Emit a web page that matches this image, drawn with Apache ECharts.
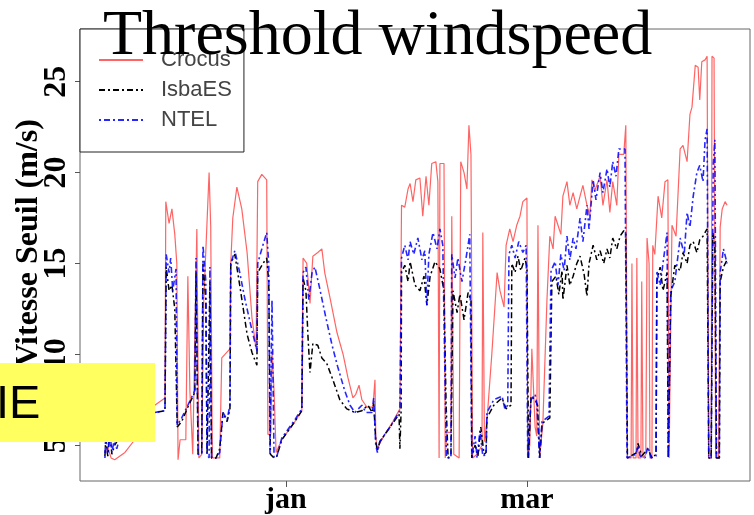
<!DOCTYPE html>
<html>
<head>
<meta charset="utf-8">
<title>Threshold windspeed</title>
<script src="https://cdn.jsdelivr.net/npm/echarts@6/dist/echarts.min.js"></script>
<style>
  html, body { margin: 0; padding: 0; background: #fff; }
  #main { width: 754px; height: 515px; }
</style>
</head>
<body>
<div id="main"></div>
<script>
// days counted from 1 January, values in m/s
var crocusDays = [-44.3,-43.6,-42.8,-41.9,-39.4,-37.0,-34.5,-32.1,-29.6,
  -29.4,-28.6,-27.9,-27.2,-26.7,-26.4,-25.9,-24.5,-24.0,-23.5,-22.8,-21.8,-21.3,-20.6,-20.1,-18.8,-18.4,-18.0,-16.2,-15.7,-13.7,-13.5,-13.0,-12.0,-10.8,-9.5,-8.3,-7.3,-6.9,-5.9,-4.7,-4.4,-3.7,-3.4,-2.9,-2.4,-1.0,2.2,3.9,
  4.2,5.1,5.9,6.6,7.8,8.8,9.5,10.8,12.5,14.0,15.2,16.4,17.1,17.9,18.6,19.8,21.3,21.8,22.0,22.3,24.2,26.2,27.9,
  28.3,29.1,29.9,30.4,31.1,31.8,32.8,33.5,34.3,35.0,35.7,36.7,37.2,37.5,37.7,38.7,39.0,39.4,40.4,40.6,41.1,42.4,42.8,43.6,44.3,44.8,45.3,45.7,
  46.8,48.0,48.2,48.6,49.2,50.4,51.7,52.4,53.4,53.9,54.8,55.6,56.5,57.3,58.0,59.0,59.2,59.7,60.2,61.0,61.4,61.7,62.1,62.9,63.9,64.6,
  65.4,65.9,66.6,67.3,67.8,68.8,69.5,70.3,71.2,72.0,72.7,73.7,74.4,74.9,75.6,76.9,77.6,78.6,79.3,80.0,81.0,81.5,82.7,83.2,83.6,
  84.5,84.7,85.0,85.7,85.9,86.2,86.9,87.1,87.4,88.1,88.4,88.9,89.1,89.6,89.8,90.3,
  91.1,92.0,92.8,93.5,93.8,94.2,94.5,95.5,96.5,97.2,98.2,98.9,99.4,100.2,100.9,101.3,101.8,102.6,103.1,103.5,104.1,104.3,104.8,105.2,105.9,106.3,106.8,107.5,108.0];
var crocusVals = [4.6,4.9,4.3,4.2,4.6,5.3,6.3,7.2,7.6,
  18.4,17.2,18.0,16.6,15.0,4.2,5.3,5.3,14.3,8.0,4.5,16.9,4.3,4.5,13.0,20.0,17.0,4.3,4.3,9.8,10.3,15.0,17.5,19.2,18.0,15.6,12.0,10.3,19.5,19.9,19.6,5.6,5.6,10.2,8.0,4.6,5.3,6.3,6.9,
  15.3,15.0,12.8,15.4,15.6,15.8,14.5,13.1,11.2,10.0,8.7,7.6,7.8,8.3,7.5,7.1,7.1,8.6,5.5,4.8,5.6,6.3,7.0,
  18.2,18.1,19.1,19.4,18.4,19.6,19.7,17.6,19.8,18.2,20.5,20.6,19.5,4.3,20.5,20.5,4.3,5.7,5.7,17.6,4.5,4.3,20.6,20.0,19.1,22.6,21.0,4.3,
  4.5,5.0,16.7,5.2,6.3,10.0,14.5,13.5,12.6,16.0,16.9,16.2,17.1,17.6,18.4,18.6,4.3,5.0,10.3,6.0,5.5,17.1,4.3,6.2,13.0,16.5,
  15.8,17.6,17.1,16.6,18.7,19.5,18.2,18.9,18.0,18.7,19.3,18.2,17.6,19.6,19.0,19.8,18.2,19.6,17.8,19.5,18.2,21.0,21.0,22.6,4.3,
  4.3,15.0,4.3,4.3,15.3,4.3,4.3,14.0,4.3,4.5,16.4,15.0,4.3,4.3,16.0,15.5,
  18.7,17.5,19.5,19.6,4.3,4.3,17.1,16.5,21.3,21.5,20.6,23.2,23.6,25.9,25.8,24.0,26.1,26.2,26.4,4.3,4.3,26.4,26.3,4.3,4.3,17.0,18.0,18.4,18.2];

var isbaDays = [-44.3,-44.1,-43.6,-43.1,-42.6,-41.9,-41.1,-38.2,-34.5,-32.1,-29.6,
  -29.3,-28.6,-27.9,-27.2,-26.6,-25.5,-24.0,-22.3,-22.0,-21.5,-20.6,-20.3,-19.6,-19.3,-18.6,-18.2,-17.1,-16.2,-15.4,-14.4,-13.7,-13.5,-12.5,-11.3,-9.5,-8.3,-7.1,-6.9,-5.6,-4.7,-4.2,-3.8,-2.9,-2.2,-1.0,2.2,3.9,
  4.2,4.9,5.4,5.9,6.6,7.8,8.8,10.0,11.5,13.2,14.9,16.9,18.6,20.1,21.1,21.5,22.0,22.4,23.0,25.5,27.7,27.9,28.2,
  28.3,29.1,29.9,30.4,31.6,32.8,33.8,34.5,35.3,36.5,37.7,38.7,39.2,39.7,40.4,40.9,41.9,42.6,43.6,44.6,45.3,45.5,
  46.3,47.0,47.7,48.5,49.0,49.2,50.9,52.9,53.9,55.1,55.3,56.1,56.8,57.5,58.5,59.0,59.4,60.0,61.0,61.6,62.1,62.7,64.6,65.1,
  66.1,66.8,67.6,67.8,68.3,68.8,69.5,70.3,71.2,72.0,73.0,73.7,74.2,75.2,76.1,76.9,77.8,78.6,79.3,80.0,81.0,81.8,82.7,83.2,83.6,
  85.9,86.2,87.1,88.6,89.6,90.6,
  90.8,91.6,92.3,93.3,93.6,94.0,94.2,95.2,96.5,97.2,98.2,98.9,99.7,100.6,101.3,102.1,103.1,103.5,104.1,104.5,105.0,105.4,106.1,106.3,107.1,108.0];
var isbaVals = [4.4,5.3,4.4,5.6,4.5,5.0,5.3,6.0,6.5,6.8,6.9,
  14.8,13.5,13.8,12.5,6.0,6.3,7.1,7.9,14.5,4.5,4.6,15.0,13.0,4.5,14.0,4.3,4.3,4.8,6.8,6.3,7.0,15.0,15.5,13.8,11.1,10.1,9.4,14.5,15.0,15.3,14.0,4.5,4.3,4.4,5.3,6.3,6.9,
  14.2,13.5,11.0,9.0,10.6,10.5,9.8,9.5,8.6,7.5,7.0,6.8,6.9,7.2,6.8,7.3,5.2,4.7,5.2,6.0,6.7,4.8,6.9,
  14.5,14.9,14.0,15.1,13.8,13.5,14.3,12.7,14.3,15.1,14.7,13.5,7.3,4.3,4.5,13.5,12.3,13.3,11.9,13.4,13.0,4.3,
  5.0,4.4,6.0,4.5,4.6,6.5,7.2,7.6,7.0,7.2,15.0,14.5,15.4,14.6,15.3,14.8,4.3,7.7,7.5,7.2,4.3,6.2,6.5,14.0,
  14.3,13.3,14.6,13.0,13.9,14.9,13.8,14.3,15.0,15.4,14.4,13.2,15.0,16.0,15.2,15.7,15.0,15.8,15.3,16.4,15.8,16.5,16.8,16.6,4.3,
  4.6,5.1,4.4,4.8,4.3,4.5,
  14.0,14.8,13.5,14.5,4.3,4.3,13.2,14.9,14.6,15.6,15.0,16.0,16.2,15.6,16.3,16.5,16.9,4.3,4.3,16.7,16.0,4.3,4.3,14.0,14.8,15.2];

var ntelDays = [-44.3,-44.1,-43.6,-43.1,-42.6,-42.1,-41.4,-40.6,-38.2,-34.5,-32.1,-29.6,
  -29.3,-28.6,-28.2,-27.7,-26.9,-26.6,-25.5,-24.0,-22.3,-22.0,-21.5,-20.6,-20.3,-19.6,-19.3,-18.8,-18.6,-18.2,-17.1,-16.2,-15.4,-14.4,-13.7,-13.5,-12.5,-11.3,-10.0,-8.8,-7.1,-6.9,-5.9,-4.7,-4.2,-3.9,-3.4,-2.9,-2.2,-1.0,2.2,3.9,
  4.2,4.9,5.6,6.4,7.1,8.3,9.8,11.3,12.7,14.4,15.7,16.9,18.6,19.6,21.1,21.5,22.0,22.4,23.0,25.5,27.9,
  28.3,29.1,29.9,30.4,31.3,32.3,33.3,34.0,34.5,35.0,36.0,37.0,37.7,38.4,38.9,39.3,40.4,40.6,41.4,42.1,43.1,44.1,45.0,45.5,
  46.3,46.8,47.5,48.2,49.0,49.2,50.9,52.9,53.6,54.3,54.6,55.3,56.1,57.0,58.0,58.8,59.2,60.0,61.0,61.4,62.1,62.7,64.4,64.6,64.9,
  65.9,66.6,67.3,68.1,68.8,69.5,70.3,71.0,72.0,72.7,73.7,74.2,75.2,75.9,76.9,77.6,78.6,79.3,80.0,80.8,81.5,83.0,83.5,
  85.7,86.2,86.7,87.9,88.6,89.4,90.6,
  90.8,91.6,92.3,93.3,93.6,94.0,94.2,95.2,96.5,97.5,98.2,98.9,99.7,100.6,101.3,102.1,102.6,103.1,103.5,104.1,104.6,105.0,105.4,106.1,106.3,107.1,108.0];
var ntelVals = [4.3,5.5,4.5,5.8,4.6,5.2,4.8,5.5,6.0,6.6,6.8,6.9,
  15.5,14.5,15.3,13.5,14.7,6.1,6.5,7.2,8.0,15.3,4.5,4.5,16.0,14.0,4.5,4.3,14.8,4.3,4.3,4.6,6.8,6.4,7.2,15.0,15.7,14.5,13.0,11.8,10.2,15.0,15.8,16.7,15.0,4.5,13.0,4.3,4.4,5.4,6.4,7.0,
  14.5,14.8,13.0,14.5,14.8,13.6,12.0,10.5,9.3,8.0,7.2,6.8,7.2,6.8,6.8,7.6,5.0,4.6,5.2,6.0,6.9,
  15.3,16.0,15.2,16.2,15.5,16.4,15.2,15.7,12.7,15.5,16.7,15.8,16.9,16.0,9.2,4.3,4.3,15.5,14.2,15.3,14.0,15.3,16.6,4.3,
  5.5,4.3,5.8,4.4,4.5,6.8,7.5,7.7,7.0,7.2,15.5,16.0,15.3,16.2,15.6,16.0,4.3,7.5,7.8,7.3,4.3,6.3,6.6,10.0,14.6,
  15.1,13.8,15.5,14.6,16.5,15.2,16.4,15.8,17.5,16.2,18.2,16.9,19.6,18.5,20.0,18.9,20.2,19.2,20.6,19.8,21.3,21.3,4.3,
  4.5,5.0,4.4,4.3,4.9,4.3,4.4,
  14.6,13.8,15.0,16.7,4.3,4.3,13.5,14.0,16.4,15.5,17.8,17.0,18.7,20.0,20.4,19.5,21.8,22.4,4.3,4.3,20.5,21.8,4.3,4.3,14.5,15.8,15.0];

var yTicks = [5, 10, 15, 20, 25];
var xTickDays = [0, 59];
var xTickLabels = ['jan', 'mar'];

function pairs(xs, ys) {
  return xs.map(function (x, i) { return [x, ys[i]]; });
}

var serifBold = { fontFamily: 'Liberation Serif', fontWeight: 'bold', color: '#000' };

var myChart = echarts.init(document.getElementById('main'));
var option = {
  animation: false,
  backgroundColor: '#fff',
  title: {
    text: 'Threshold windspeed',
    left: 103,
    top: 5,
    padding: 0,
    textStyle: { fontFamily: 'Liberation Serif', fontSize: 64, fontWeight: 'normal', color: '#000' }
  },
  legend: {
    orient: 'vertical',
    left: 80,
    top: 29,
    backgroundColor: '#fff',
    borderColor: '#222',
    borderWidth: 1,
    padding: [20, 12, 21, 18],
    itemWidth: 44,
    itemHeight: 22,
    itemGap: 8,
    itemStyle: { color: 'transparent', borderWidth: 0, opacity: 0 },
    textStyle: { fontFamily: 'Liberation Sans', fontSize: 22, lineHeight: 22, color: '#444', padding: [0, 0, 0, 13] },
    data: ['Crocus', 'IsbaES', 'NTEL']
  },
  grid: {
    left: 80, right: 4, top: 29, bottom: 31,
    show: true, borderColor: '#666', borderWidth: 1
  },
  xAxis: {
    type: 'value',
    min: -50.4,
    max: 113.6,
    splitLine: { show: false },
    axisLine: { show: false, onZero: false },
    axisTick: { show: true, length: 6, lineStyle: { color: '#555' }, customValues: xTickDays },
    axisLabel: {
      customValues: xTickDays,
      margin: 4,
      fontSize: 30,
      fontFamily: serifBold.fontFamily, fontWeight: serifBold.fontWeight, color: serifBold.color,
      formatter: function (v) { return xTickLabels[xTickDays.indexOf(v)]; }
    }
  },
  yAxis: {
    type: 'value',
    min: 3.03,
    max: 27.9,
    splitLine: { show: false },
    axisLine: { show: false, onZero: false },
    axisTick: { show: true, length: 5, lineStyle: { color: '#555' }, customValues: yTicks },
    axisLabel: {
      customValues: yTicks,
      rotate: 90,
      margin: 7,
      fontSize: 32,
      fontFamily: serifBold.fontFamily, fontWeight: serifBold.fontWeight, color: serifBold.color
    }
  },
  graphic: [
    {
      type: 'text', x: 29, y: 243, rotation: Math.PI / 2, z: 50,
      style: { text: 'Vitesse Seuil (m/s)', font: 'bold 32px "Liberation Serif"', fill: '#000', textAlign: 'center', textVerticalAlign: 'middle' }
    },
    {
      type: 'rect', z: 100,
      shape: { x: 0, y: 363, width: 155, height: 79 },
      style: { fill: '#ffff5f' }
    },
    {
      type: 'text', x: -4, y: 405, z: 101,
      style: { text: 'IE', font: '47px "Liberation Sans"', fill: '#000', textAlign: 'left', textVerticalAlign: 'middle' }
    }
  ],
  series: [
    {
      name: 'Crocus', type: 'line', symbol: 'none', data: pairs(crocusDays, crocusVals),
      lineStyle: { color: '#ff3030', width: 1.2, opacity: 0.75 },
      itemStyle: { color: '#ff3030' }
    },
    {
      name: 'IsbaES', type: 'line', symbol: 'none', data: pairs(isbaDays, isbaVals),
      lineStyle: { color: '#000', width: 1.5, type: [6, 3, 2, 3] },
      itemStyle: { color: '#000' }
    },
    {
      name: 'NTEL', type: 'line', symbol: 'none', data: pairs(ntelDays, ntelVals),
      lineStyle: { color: '#0000ff', width: 1.6, type: [2, 3, 6, 3], opacity: 0.85 },
      itemStyle: { color: '#0000ff' }
    }
  ]
};
myChart.setOption(option);
</script>
</body>
</html>
